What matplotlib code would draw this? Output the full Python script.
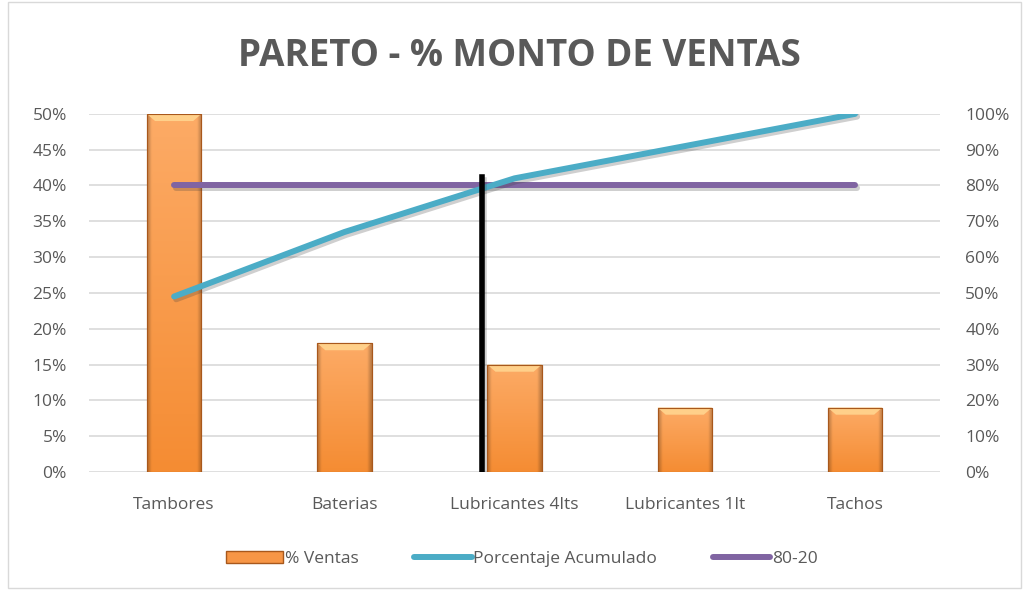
import numpy as np
import matplotlib
matplotlib.use("Agg")
import matplotlib.pyplot as plt
import matplotlib.patheffects as pe
from matplotlib.patches import Rectangle, Patch, Polygon
from matplotlib.lines import Line2D

plt.rcParams['font.family'] = ['Open Sans', 'DejaVu Sans']

categorias = ["Tambores", "Baterias", "Lubricantes 4lts", "Lubricantes 1lt", "Tachos"]
pct_ventas = [50, 18, 15, 9, 9]           # eje izquierdo (%)
acumulado = [49, 67, 82, 91, 100]         # eje derecho (%)
linea_80_20 = [80, 80, 80, 80, 80]        # eje derecho (%)
corte_x = 1.81                            # linea vertical negra
corte_y = [-1.8, 82.4]

gris = "#595959"
naranja = "#F79646"
azul = "#4BACC6"
morado = "#8064A2"
borde = "#A8581C"

fig = plt.figure(figsize=(10.23, 5.90), dpi=100)
fig.patches.append(Rectangle((0.008, 0.003), 0.99, 0.994, transform=fig.transFigure,
                             fill=False, edgecolor="#D9D9D9", linewidth=1))
ax = fig.add_axes([0.087, 0.2, 0.832, 0.607])
x = np.arange(len(categorias))

bars = ax.bar(x, pct_ventas, width=0.32, color=naranja, edgecolor=borde,
              linewidth=0.8, zorder=3)

# degradado vertical con bordes oscurecidos (efecto bisel)
ny, nx = 60, 40
v = np.linspace(0, 1, ny)[:, None]          # 0 abajo, 1 arriba
h = np.linspace(0, 1, nx)[None, :]
top = np.array([0.99, 0.67, 0.40])
bot = np.array([0.96, 0.55, 0.20])
img = bot + (top - bot) * v[..., None]
edge = np.clip(1 - np.minimum(h, 1 - h) / 0.08, 0, 1) * 0.25
img = img * (1 - edge[..., None])
img = img[::-1]

for b in bars:
    bx, by, bw, bh = b.get_x(), b.get_y(), b.get_width(), b.get_height()
    im = ax.imshow(img, extent=[bx, bx + bw, by, by + bh], aspect="auto",
                   interpolation="bilinear", zorder=3.1)
    im.set_clip_path(b)
    bev = 1.0
    ax.add_patch(Polygon([[bx, by + bh], [bx + bw, by + bh],
                          [bx + bw * 0.85, by + bh - bev], [bx + bw * 0.15, by + bh - bev]],
                         facecolor="#FFD08A", edgecolor="none", zorder=3.2))
    ax.add_patch(Rectangle((bx, by), bw, bh, fill=False, edgecolor=borde,
                           linewidth=0.8, zorder=3.3))

ax.set_xlim(-0.5, 4.5)
ax.set_ylim(0, 50)
ax.set_yticks(np.arange(0, 51, 5))
ax.set_yticklabels([f"{v}%" for v in range(0, 51, 5)])
ax.set_xticks(x)
ax.set_xticklabels(categorias)
ax.grid(axis="y", color="#D9D9D9", linewidth=1.2, zorder=0)
ax.set_axisbelow(True)
for s in ax.spines.values():
    s.set_visible(False)
ax.tick_params(axis="both", length=0, colors=gris, labelsize=12.5)
ax.tick_params(axis="y", pad=16)
ax.tick_params(axis="x", pad=18)

ax2 = ax.twinx()
ax2.set_ylim(0, 100)
ax2.set_yticks(np.arange(0, 101, 10))
ax2.set_yticklabels([f"{v}%" for v in range(0, 101, 10)])
for s in ax2.spines.values():
    s.set_visible(False)
ax2.tick_params(axis="y", length=0, colors=gris, labelsize=12.5, pad=18)

sombra = [pe.SimpleLineShadow(offset=(1.5, -2), alpha=0.25, shadow_color="#404040"),
          pe.Normal()]
ax2.plot(x, linea_80_20, color=morado, linewidth=4.3, solid_capstyle="round",
         path_effects=sombra, zorder=4)
ax2.plot(x, acumulado, color=azul, linewidth=4.3, solid_capstyle="round",
         solid_joinstyle="round", path_effects=sombra, zorder=5)
ax2.plot([corte_x, corte_x], corte_y, color="black", linewidth=4,
         path_effects=sombra, zorder=6)

fig.text(0.508, 0.905, "PARETO - % MONTO DE VENTAS", ha="center", va="center",
         fontsize=26.5, fontweight="bold", color=gris)

handles = [Patch(facecolor=naranja, edgecolor=borde),
           Line2D([], [], color=azul, linewidth=4.3, solid_capstyle="round"),
           Line2D([], [], color=morado, linewidth=4.3, solid_capstyle="round")]
fig.legend(handles, ["% Ventas", "Porcentaje Acumulado", "80-20"], loc="center",
           bbox_to_anchor=(0.51, 0.053), ncol=3, frameon=False, fontsize=12.5,
           labelcolor=gris, handlelength=3.3, handletextpad=0.1, columnspacing=3.2)

fig.savefig("out.png", dpi=100)
